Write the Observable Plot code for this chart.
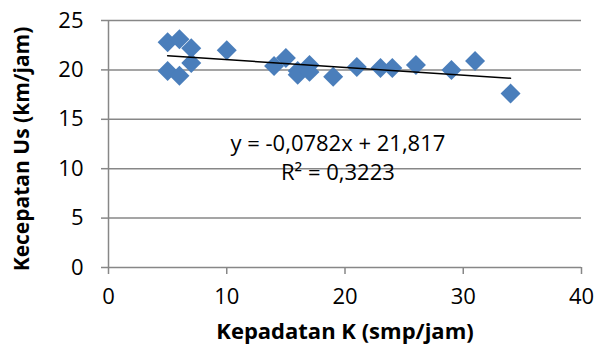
<!DOCTYPE html>
<html>
<head>
<meta charset="utf-8">
<script src="https://cdn.jsdelivr.net/npm/d3@7"></script>
<script src="https://cdn.jsdelivr.net/npm/@observablehq/plot@0.6"></script>
<style>
  html, body { margin: 0; padding: 0; background: #fff; }
  svg { font-family: "Open Sans", sans-serif; }
</style>
</head>
<body>
<div id="chart"></div>
<script>
// Kepadatan K (smp/jam)
const kepadatan = [5, 5, 6, 6, 7, 7, 10, 14, 15, 16, 16, 17, 17, 19, 21, 23, 24, 26, 29, 31, 34];
// Kecepatan Us (km/jam)
const kecepatan = [22.8, 19.9, 23.1, 19.4, 22.2, 20.7, 22.0, 20.4, 21.2, 19.9, 19.5, 20.5, 19.8, 19.3, 20.3, 20.2, 20.2, 20.5, 20.0, 20.9, 17.6];
// trend line coefficients (as printed on the chart)
const slope = [-0.0782];
const intercept = [21.817];
const rSquared = [0.3223];
const xTicks = [0, 10, 20, 30, 40];
const yTicks = [0, 5, 10, 15, 20, 25];
const xTitle = "Kepadatan K (smp/jam)";
const yTitle = "Kecepatan Us (km/jam)";

const points = kepadatan.map((k, i) => ({k, u: kecepatan[i]}));
const trend = d3.extent(kepadatan).map(k => ({k, u: intercept[0] + slope[0] * k}));
const fmt = v => String(v).replace(".", ",");
const eqText = `y = ${fmt(slope[0])}x + ${fmt(intercept[0])}`;
const r2Text = `R² = ${fmt(rSquared[0])}`;

const gray = "#878787";
const chart = Plot.plot({
  width: 596,
  height: 356,
  marginLeft: 108,
  marginRight: 15,
  marginTop: 20,
  marginBottom: 89,
  style: {fontFamily: "'Open Sans', sans-serif", fontSize: "22px", color: "#000", background: "#fff", overflow: "visible"},
  x: {domain: [0, 40]},
  y: {domain: [0, 25]},
  marks: [
    Plot.gridY(yTicks.filter(d => d > 0), {stroke: gray, strokeOpacity: 1, strokeWidth: 1.5}),
    Plot.ruleY([0], {stroke: gray, strokeWidth: 1.5}),
    Plot.ruleX([0], {stroke: gray, strokeWidth: 1.5}),
    Plot.axisX({ticks: xTicks, tickSize: 7, tickPadding: 14, stroke: gray, strokeWidth: 1.5, fontSize: 22, label: null, tickFormat: d => d}),
    Plot.axisY({ticks: yTicks, tickSize: 7, tickPadding: 18, stroke: gray, strokeWidth: 1.5, fontSize: 22, label: null, tickFormat: d => d}),
    Plot.dot(points, {x: "k", y: "u", symbol: "diamond2", r: 9, fill: "#4a7ebb", stroke: null}),
    Plot.line(trend, {x: "k", y: "u", stroke: "#000", strokeWidth: 1.5}),
    Plot.text([eqText], {x: 19.4, y: 12.55, text: d => d, fontSize: 22, fill: "#000"}),
    Plot.text([r2Text], {x: 19.4, y: 9.6, text: d => d, fontSize: 22, fill: "#000"}),
    Plot.text([xTitle], {frameAnchor: "bottom", dy: 71, text: d => d, fontSize: 22, fontWeight: "bold", fill: "#000"}),
    Plot.text([yTitle], {frameAnchor: "left", textAnchor: "middle", dx: -86, dy: 5, rotate: -90, text: d => d, fontSize: 21, fontWeight: "bold", fill: "#000"})
  ]
});
document.getElementById("chart").appendChild(chart);
</script>
</body>
</html>
